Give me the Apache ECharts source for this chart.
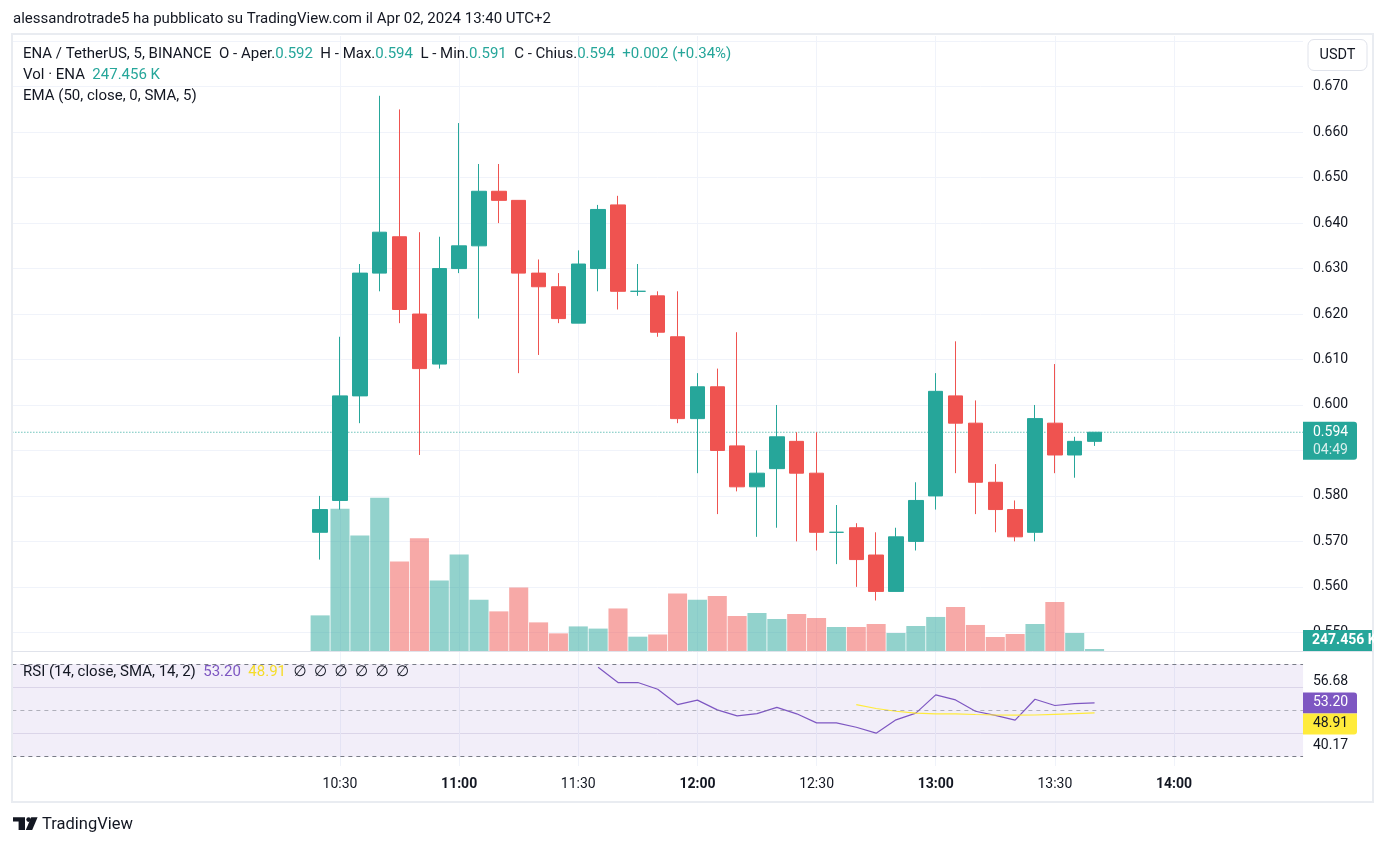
<!DOCTYPE html>
<html>
<head>
<meta charset="utf-8">
<script src="https://cdn.jsdelivr.net/npm/echarts@6/dist/echarts.min.js"></script>
<style>html,body{margin:0;padding:0;background:#fff}#c{width:1386px;height:846px}</style>
</head>
<body>
<div id="c"></div>
<script>
// ---------------- DATA ----------------
const candleTimes = ['10:25','10:30','10:35','10:40','10:45','10:50','10:55','11:00','11:05','11:10',
  '11:15','11:20','11:25','11:30','11:35','11:40','11:45','11:50','11:55','12:00',
  '12:05','12:10','12:15','12:20','12:25','12:30','12:35','12:40','12:45','12:50',
  '12:55','13:00','13:05','13:10','13:15','13:20','13:25','13:30','13:35','13:40'];
const openP  = [0.572,0.579,0.602,0.629,0.637,0.620,0.609,0.630,0.635,0.647,
  0.645,0.629,0.626,0.618,0.630,0.644,0.625,0.624,0.615,0.597,
  0.604,0.591,0.582,0.586,0.592,0.585,0.572,0.573,0.567,0.559,
  0.570,0.580,0.602,0.596,0.583,0.577,0.572,0.596,0.589,0.592];
const highP  = [0.580,0.615,0.631,0.668,0.665,0.638,0.637,0.662,0.653,0.653,
  0.645,0.632,0.629,0.634,0.644,0.646,0.631,0.625,0.625,0.607,
  0.608,0.616,0.590,0.600,0.594,0.594,0.578,0.574,0.572,0.573,
  0.583,0.607,0.614,0.601,0.587,0.579,0.600,0.609,0.593,0.594];
const lowP   = [0.566,0.577,0.596,0.625,0.618,0.589,0.608,0.629,0.619,0.640,
  0.607,0.611,0.618,0.618,0.625,0.621,0.624,0.615,0.596,0.585,
  0.576,0.581,0.571,0.573,0.570,0.568,0.565,0.560,0.557,0.559,
  0.568,0.577,0.585,0.576,0.572,0.570,0.570,0.585,0.584,0.591];
const closeP = [0.577,0.602,0.629,0.638,0.621,0.608,0.630,0.635,0.647,0.645,
  0.629,0.626,0.619,0.631,0.643,0.625,0.625,0.616,0.597,0.604,
  0.590,0.582,0.585,0.593,0.585,0.572,0.572,0.566,0.559,0.571,
  0.579,0.603,0.596,0.583,0.577,0.571,0.597,0.589,0.592,0.594];
const volumeK = [4404,17600,14290,18960,11070,13930,8710,11920,6350,4900,
  7840,3540,2180,3040,2770,5260,1770,2040,7120,6350,
  6800,4330,4700,3960,4580,4080,2970,2970,3340,2230,
  3090,4210,5440,3220,1730,2100,3340,6060,2230,247.456];
const rsiTimes = candleTimes.slice(14);
const rsiValues = [68.6,62.0,62.0,59.1,52.5,54.4,50.2,47.6,48.6,51.3,
  48.5,44.6,44.6,42.7,40.17,45.9,48.8,56.68,54.5,49.6,
  47.8,45.8,54.8,52.1,52.9,53.20];
const rsiSmaTimes = candleTimes.slice(27);
const rsiSmaValues = [52.5,50.8,49.6,48.8,48.5,48.5,48.2,48.0,47.9,48.0,48.3,48.6,48.91];
const priceTicks = [0.55,0.56,0.57,0.58,0.59,0.60,0.61,0.62,0.63,0.64,0.65,0.66,0.67,0.68];
const priceLabels = [0.55,0.56,0.57,0.58,0.59,0.60,0.61,0.62,0.63,0.64,0.65,0.66,0.67];
const timeLabels = ['10:30','11:00','11:30','12:00','12:30','13:00','13:30','14:00'];
const rsiBands = [70,50,30];
const rsiGridLevels = [40,60];
const rsiScaleLabels = ['56.68','40.17'];
const countdown = '04:49';

// ---------------- LAYOUT / STYLE ----------------
const FONT = 'Roboto, "Noto Sans", "DejaVu Sans", sans-serif';
const TXT = '#131722', UP = '#26a69a', DN = '#ef5350', PUR = '#7e57c2', YEL = '#ffeb3b';
const GRIDC = '#f0f3fa';
const SLOTS = 65, PLOT_LEFT = 12.36, PLOT_W = 1290.7;
const LEG = 15;

function buildSlots(start, count, step) {
  const p = start.split(':').map(Number); const t0 = p[0] * 60 + p[1]; const out = [];
  for (let i = 0; i < count; i++) { const t = t0 + i * step;
    out.push(String(Math.floor(t / 60)).padStart(2, '0') + ':' + String(t % 60).padStart(2, '0')); }
  return out;
}
const slots = buildSlots('09:10', SLOTS, 5);
const vLines = timeLabels.map(t => slots.indexOf(t) + 0.5);

function isUp(i) {
  if (closeP[i] > openP[i]) return true;
  if (closeP[i] < openP[i]) return false;
  return i === 0 ? true : closeP[i - 1] <= closeP[i];
}

const n = candleTimes.length;
const lastO = openP[n-1], lastH = highP[n-1], lastL = lowP[n-1], lastC = closeP[n-1];
const chg = lastC - closeP[n-2];
const chgPct = chg / closeP[n-2] * 100;

const chart = echarts.init(document.getElementById('c'), null, {renderer: 'canvas', width: 1386, height: 846});

const hiddenCat = (gi) => ({type: 'category', gridIndex: gi, data: slots, boundaryGap: true,
  axisLine: {show: false}, axisTick: {show: false}, axisLabel: {show: false}, splitLine: {show: false}});
const vGridAxis = (gi) => ({type: 'value', gridIndex: gi, min: 0, max: SLOTS, position: 'top',
  axisLine: {show: false}, axisTick: {show: false, customValues: vLines}, axisLabel: {show: false},
  splitLine: {show: true, lineStyle: {color: GRIDC, width: 1}}});

chart.setOption({
  animation: false,
  backgroundColor: '#ffffff',
  textStyle: {fontFamily: FONT},
  grid: [
    {left: PLOT_LEFT, top: 36, width: PLOT_W, height: 615},
    {left: PLOT_LEFT, top: 497.7, width: PLOT_W, height: 153.3},
    {left: PLOT_LEFT, top: 652, width: PLOT_W, height: 114}
  ],
  xAxis: [
    hiddenCat(0),
    hiddenCat(1),
    {type: 'category', gridIndex: 2, data: slots, boundaryGap: true,
      axisLine: {show: false}, axisTick: {show: false}, splitLine: {show: false},
      axisLabel: {interval: (i, v) => timeLabels.includes(v), margin: 11,
        formatter: v => v.endsWith(':00') ? '{b|' + v + '}' : '{n|' + v + '}',
        rich: {b: {fontWeight: 'bold', fontSize: 14, color: TXT, fontFamily: FONT},
               n: {fontSize: 14, color: TXT, fontFamily: FONT}}}},
    vGridAxis(0),
    vGridAxis(2)
  ],
  yAxis: [
    {type: 'value', gridIndex: 0, position: 'right', min: 0.54589, max: 0.68115, scale: true,
      axisLine: {show: false}, axisTick: {show: false, customValues: priceTicks},
      axisLabel: {customValues: priceLabels, formatter: v => v.toFixed(3), margin: 10,
        color: TXT, fontSize: 14, fontFamily: FONT},
      splitLine: {show: true, lineStyle: {color: GRIDC, width: 1}}},
    {type: 'value', gridIndex: 1, min: 0, max: 'dataMax', show: false},
    {type: 'value', gridIndex: 2, position: 'right', min: 25.987, max: 75.178,
      axisLine: {show: false}, axisTick: {show: false, customValues: rsiGridLevels},
      axisLabel: {show: false},
      splitLine: {show: true, lineStyle: {color: '#e6e4ee', width: 1}}}
  ],
  series: [
    {type: 'bar', name: 'Vol', xAxisIndex: 1, yAxisIndex: 1, z: 1, barCategoryGap: '4%',
      silent: true,
      data: candleTimes.map((t, i) => ({value: [t, volumeK[i]],
        itemStyle: {color: isUp(i) ? 'rgba(38,166,154,0.5)' : 'rgba(239,83,80,0.5)'}})),
      encode: {x: 0, y: 1}},
    {type: 'candlestick', name: 'ENA', xAxisIndex: 0, yAxisIndex: 0, z: 3, barWidth: 15,
      silent: true,
      data: candleTimes.map((t, i) => [t, openP[i], closeP[i], lowP[i], highP[i]]),
      encode: {x: 0, y: [1, 2, 3, 4]},
      itemStyle: {color: UP, color0: DN, borderColor: UP, borderColor0: DN, borderWidth: 1}},
    {type: 'line', name: 'RSI', xAxisIndex: 2, yAxisIndex: 2, z: 3, silent: true,
      data: rsiTimes.map((t, i) => [t, rsiValues[i]]), encode: {x: 0, y: 1},
      symbol: 'none', lineStyle: {color: PUR, width: 1.2}, itemStyle: {color: PUR},
      markLine: {silent: true, symbol: ['none', 'none'], label: {show: false},
        data: rsiBands.map(v => ({yAxis: v, lineStyle: {type: [4, 4], width: 1,
          color: v === 50 ? 'rgba(120,123,134,0.55)' : '#787b86'}}))},
      markArea: {silent: true, itemStyle: {color: 'rgba(126,87,194,0.1)'},
        data: [[{yAxis: rsiBands[2]}, {yAxis: rsiBands[0]}]]}},
    {type: 'line', name: 'RSI MA', xAxisIndex: 2, yAxisIndex: 2, z: 3, silent: true,
      data: rsiSmaTimes.map((t, i) => [t, rsiSmaValues[i]]), encode: {x: 0, y: 1},
      symbol: 'none', lineStyle: {color: YEL, width: 1.2}, itemStyle: {color: YEL}}
  ]
});

// ---------------- TEXT / BADGES ----------------
function txt(x, y, text, opt) {
  return {type: 'text', z: 100, silent: true,
    style: Object.assign({x: x, y: y, text: text, fill: TXT, fontSize: 14, fontFamily: FONT,
      verticalAlign: 'middle', align: 'left'}, opt || {})};
}
const rp = (fill, extra) => Object.assign({fill: fill, fontSize: LEG, fontFamily: FONT}, extra || {});

const yClose = chart.convertToPixel({yAxisIndex: 0}, lastC);
const yVol0 = chart.convertToPixel({yAxisIndex: 1}, 0);
const rsiLast = rsiValues[rsiValues.length - 1];
const smaLast = rsiSmaValues[rsiSmaValues.length - 1];
const yRsi = chart.convertToPixel({yAxisIndex: 2}, rsiLast);
const f3 = v => v.toFixed(3);
const sign = v => (v >= 0 ? '+' : '');

const line1 = '{d|ENA / TetherUS, 5, BINANCE  O - Aper.}{g|' + f3(lastO) + '}{d|  H - Max.}{g|' + f3(lastH) +
  '}{d|  L - Min.}{g|' + f3(lastL) + '}{d|  C - Chius.}{g|' + f3(lastC) + '}{g|  ' + sign(chg) + f3(chg) +
  ' (' + sign(chgPct) + chgPct.toFixed(2) + '%)}';

chart.setOption({
  graphic: [
    // last-price dotted line, placed through the price scale
    {type: 'line', z: 2, silent: true,
      shape: {x1: PLOT_LEFT, y1: yClose, x2: PLOT_LEFT + PLOT_W, y2: yClose},
      style: {stroke: UP, lineWidth: 1, lineDash: [1, 2]}},
    {type: 'rect', z: 99, silent: true, shape: {x: 12, y: 34, width: 1361, height: 768},
      style: {fill: 'none', stroke: '#e9ecf1', lineWidth: 2}},
    {type: 'line', z: 99, silent: true, shape: {x1: 12, y1: 651.5, x2: 1373, y2: 651.5},
      style: {stroke: '#e0e3eb', lineWidth: 1}},
    txt(13, 19, 'alessandrotrade5 ha pubblicato su TradingView.com il Apr 02, 2024 13:40 UTC+2', {fontSize: 15}),
    txt(23, 54, line1, {fontSize: LEG, rich: {d: rp(TXT), g: rp(UP)}}),
    txt(23, 75, '{d|Vol · ENA  }{g|' + f3(volumeK[n-1]) + ' K}', {fontSize: LEG, rich: {d: rp(TXT), g: rp(UP)}}),
    txt(23, 96, 'EMA (50, close, 0, SMA, 5)', {fontSize: LEG}),
    txt(23, 672, '{d|RSI (14, close, SMA, 14, 2)  }{p|' + rsiLast.toFixed(2) + '}{d|  }{y|' + smaLast.toFixed(2) +
      '}{d|  ∅  ∅  ∅  ∅  ∅  ∅}', {fontSize: LEG, rich: {d: rp(TXT), p: rp(PUR), y: rp('#f5dc2a')}}),
    // USDT button
    {type: 'rect', z: 100, silent: true, shape: {x: 1308, y: 39.5, width: 59, height: 31, r: 6},
      style: {fill: '#fff', stroke: '#e0e3eb', lineWidth: 1}},
    txt(1337.5, 55, 'USDT', {align: 'center', fontSize: 14.5}),
    // last price badge
    {type: 'rect', z: 100, silent: true, shape: {x: 1303, y: yClose - 10.5, width: 54, height: 38, r: [0, 3, 3, 0]},
      style: {fill: UP}},
    txt(1313, yClose, f3(lastC), {fill: '#ffffff'}),
    txt(1313, yClose + 18.5, countdown, {fill: 'rgba(255,255,255,0.82)'}),
    // volume badge
    {type: 'rect', z: 100, silent: true, shape: {x: 1303, y: yVol0 - 21, width: 69, height: 21},
      style: {fill: UP}},
    txt(1312, yVol0 - 10.5, f3(volumeK[n-1]) + ' K', {fill: '#ffffff', fontWeight: 'bold'}),
    // RSI scale
    txt(1313, 681.7, rsiScaleLabels[0]),
    txt(1313, 745, rsiScaleLabels[1]),
    {type: 'rect', z: 100, silent: true, shape: {x: 1303, y: yRsi - 10.5, width: 54, height: 21, r: [0, 3, 0, 0]},
      style: {fill: PUR}},
    txt(1313, yRsi, rsiLast.toFixed(2), {fill: '#ffffff'}),
    {type: 'rect', z: 100, silent: true, shape: {x: 1303, y: yRsi + 10.5, width: 54, height: 21, r: [0, 0, 3, 0]},
      style: {fill: YEL}},
    txt(1313, yRsi + 21, smaLast.toFixed(2), {fill: TXT}),
    // footer logo
    {type: 'polygon', z: 100, silent: true,
      shape: {points: [[13, 817.3], [25, 817.3], [25, 830], [18.6, 830], [18.6, 821.6], [13, 821.6]]},
      style: {fill: TXT}},
    {type: 'circle', z: 100, silent: true, shape: {cx: 28.6, cy: 819.6, r: 2.3}, style: {fill: TXT}},
    {type: 'polygon', z: 100, silent: true,
      shape: {points: [[31.2, 817.3], [37.6, 817.3], [32.2, 830], [25.8, 830]]}, style: {fill: TXT}},
    txt(42, 825, 'TradingView', {fontSize: 16.5})
  ]
});
</script>
</body>
</html>
